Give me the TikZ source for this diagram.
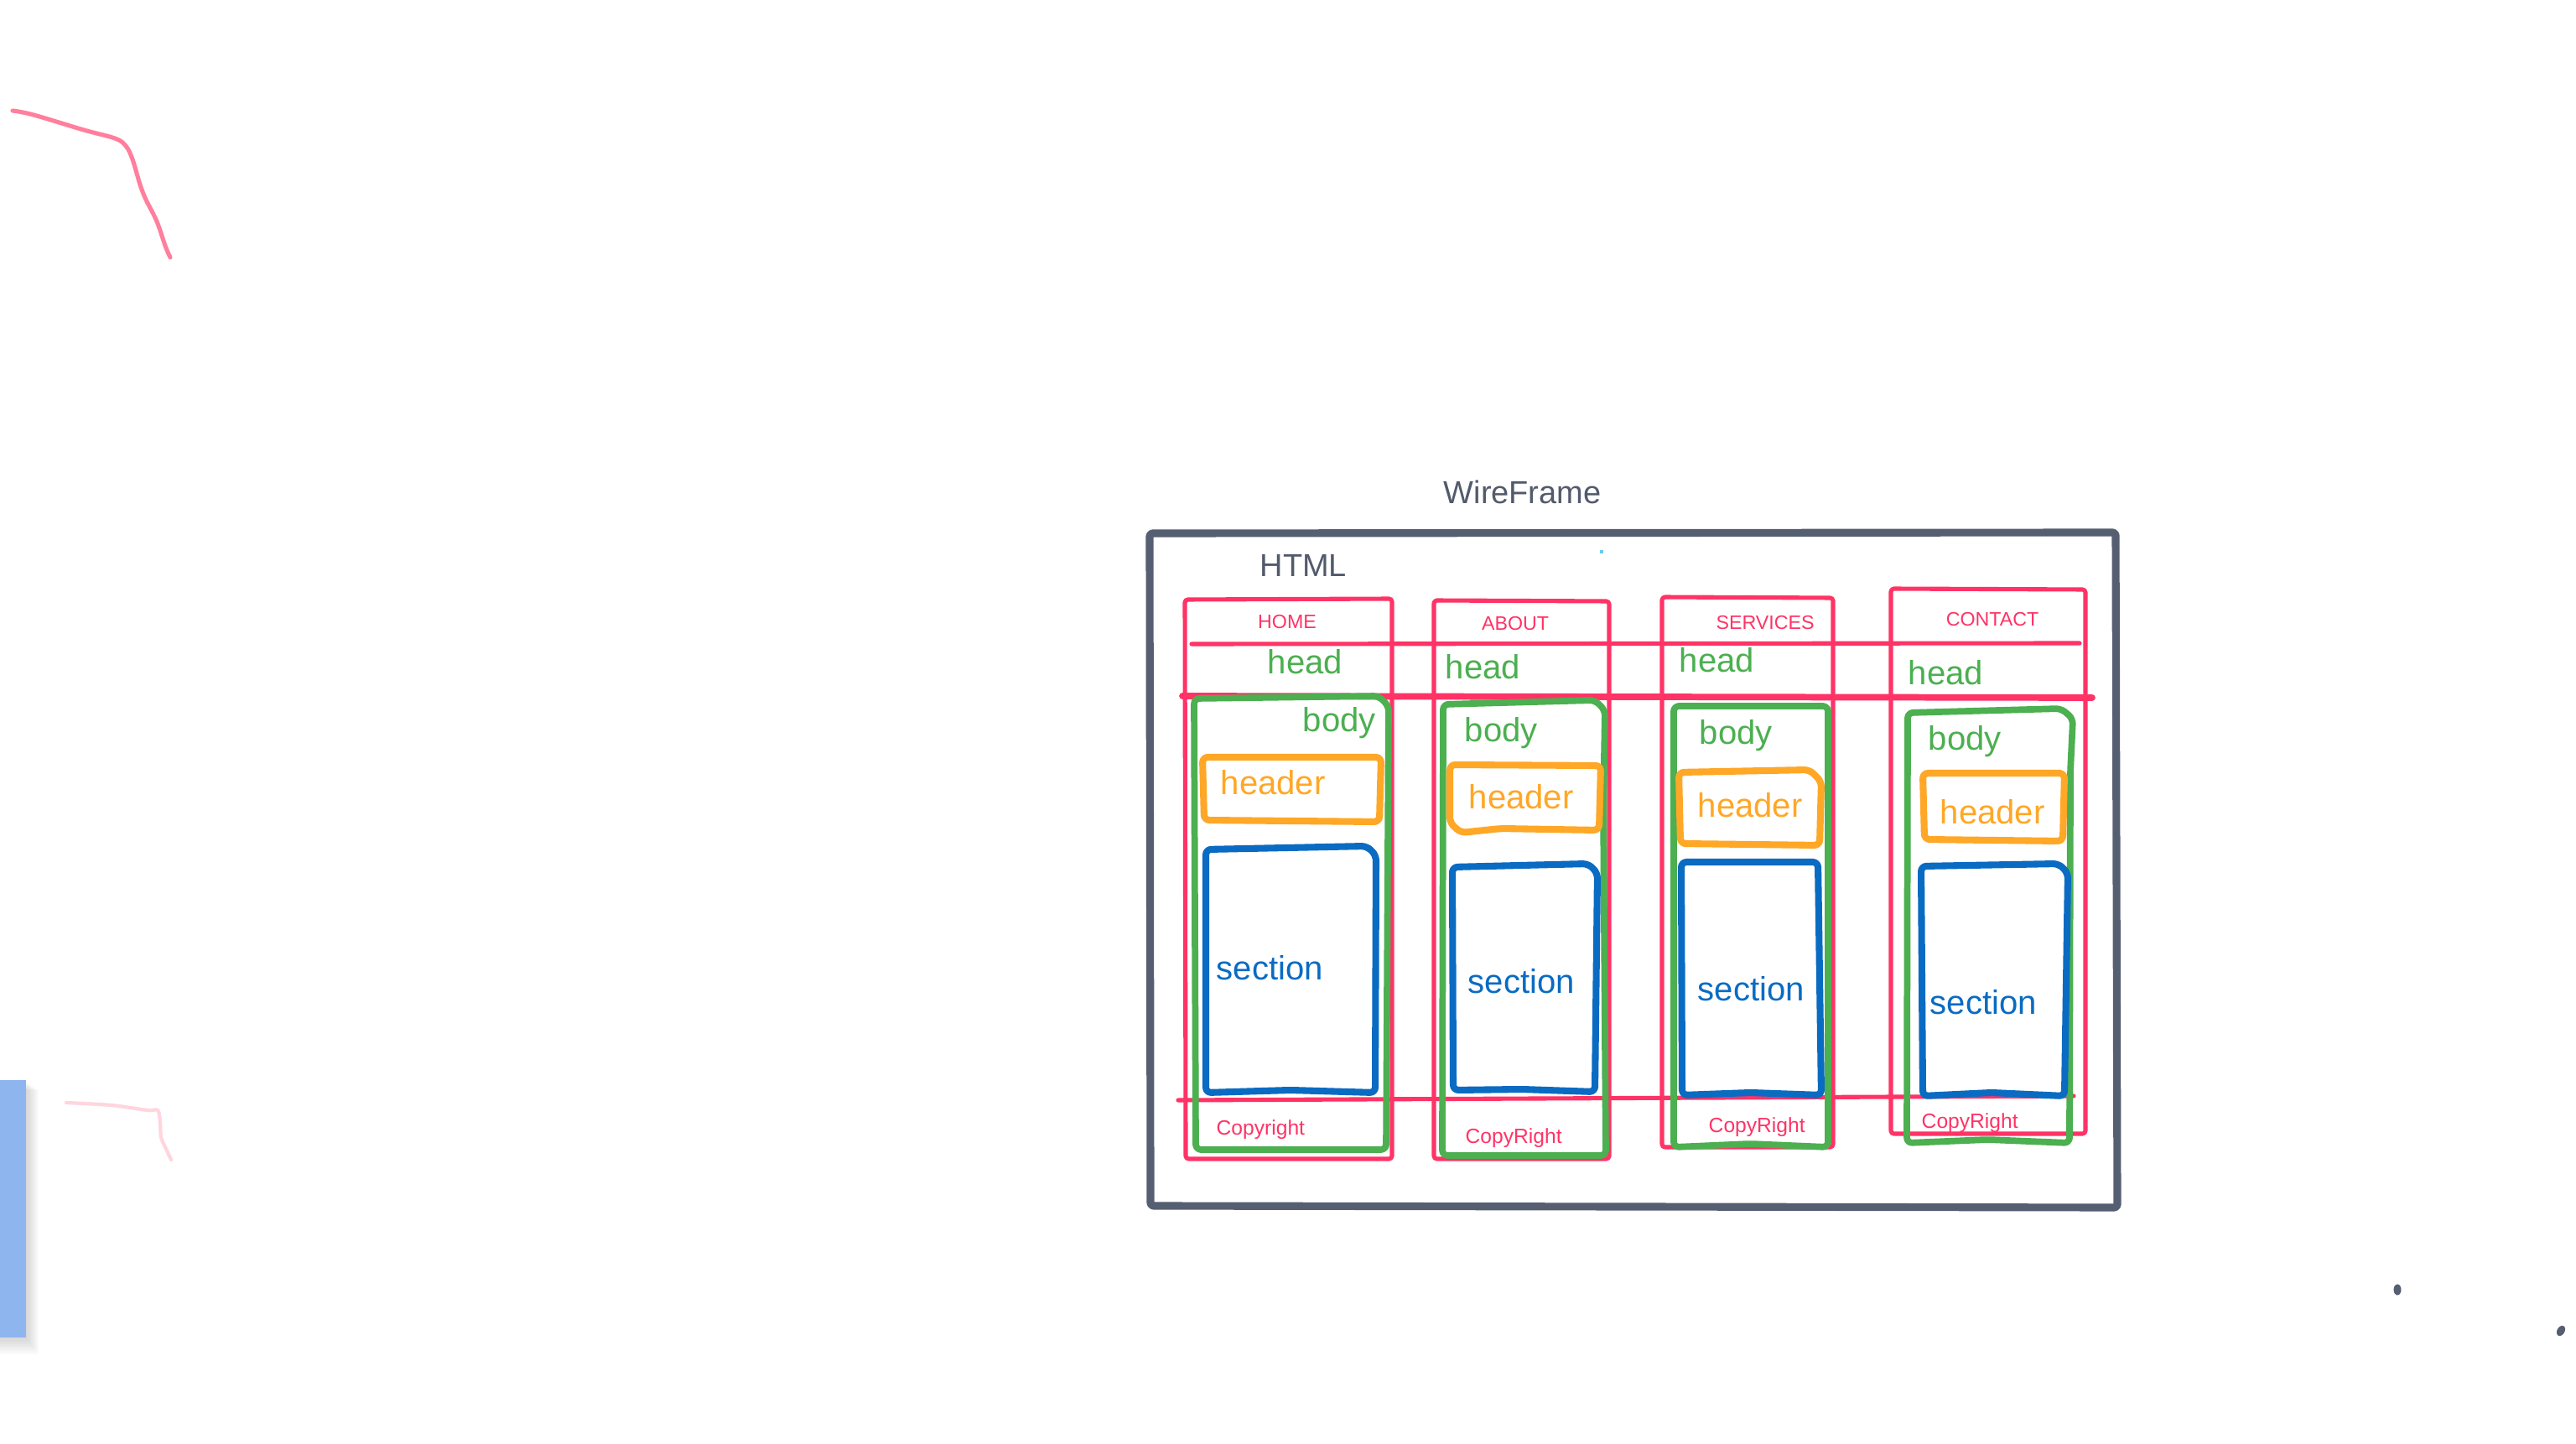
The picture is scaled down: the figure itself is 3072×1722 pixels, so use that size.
\documentclass[tikz,border=0pt]{standalone}
\usepackage{fontspec}
\setmainfont{Liberation Sans}
\usetikzlibrary{shapes.geometric}
\definecolor{pk}{HTML}{FF3366}
\definecolor{gn}{HTML}{4CAF50}
\definecolor{og}{HTML}{FFA726}
\definecolor{bl}{HTML}{0A6BC2}
\definecolor{gy}{HTML}{565E72}
\definecolor{tgy}{HTML}{525A6C}
\definecolor{scrib}{HTML}{FF7F9C}
\definecolor{faint}{HTML}{FFD5DE}
\definecolor{lb}{HTML}{8FB5EF}
\begin{document}
\begin{tikzpicture}[x=0.01cm,y=-0.01cm,line join=round,line cap=round,
  pinkbox/.style={draw=pk,line width=1.45pt,rounded corners=1pt},
  pinkthick/.style={draw=pk,line width=2.2pt},
  greenbox/.style={draw=gn,line width=2.2pt,rounded corners=1.8pt},
  orangebox/.style={draw=og,line width=2.3pt,rounded corners=1.8pt},
  bluebox/.style={draw=bl,line width=2.3pt,rounded corners=1.8pt},
  outerbox/.style={draw=gy,line width=2.6pt,rounded corners=1pt},
  title/.style={font=\fontsize{10.8}{13}\selectfont,text=tgy,inner sep=0,anchor=base west},
  big/.style={font=\fontsize{11.4}{13}\selectfont,inner sep=0,anchor=base west},
  tab/.style={font=\fontsize{6.6}{8}\selectfont,text=pk,inner sep=0,anchor=base},
  foot/.style={font=\fontsize{7}{8}\selectfont,text=pk,inner sep=0,anchor=base west}]
\useasboundingbox (0,0) rectangle (3072,1722);

% left-side marks
\draw[scrib,line width=1.45pt] plot[smooth,tension=0.6] coordinates {(15,132) (40,137) (100,155) (137,165) (150,174) (158,190) (167,220) (174,238) (187,264) (197,293) (203,307)};
\draw[faint,line width=1.2pt] plot[smooth,tension=0.5] coordinates {(79,1315) (133,1318) (176,1324) (188,1324) (191,1338) (192,1356) (198,1370) (204,1383)};
\foreach \i in {1,...,10} {
  \fill[black,opacity=0.014] (0,1290+\i) rectangle (31+1.5*\i,1595+2*\i);
}
\fill[lb] (0,1288) rectangle (31,1595);

% dots
\fill[gy] (2859,1538) ellipse [x radius=4.5, y radius=6.5];
\fill[gy,rotate around={-30:(3054,1587)}] (3054,1587) ellipse [x radius=4.5, y radius=6.5];
\fill[lb!70!cyan] (1908,656) rectangle (1912,660);

% title
\node[title] (wf) at (1721,601) {WireFrame};
\draw[outerbox] (1371,636) -- (2523,635) -- (2525,1440) -- (1372,1438) -- cycle;
\node[title] (html) at (1502,688) {HTML};

% pink column boxes
\draw[pinkbox] (1413,715) -- (1660,714) -- (1660,1382) -- (1414,1382) -- cycle;
\draw[pinkbox] (1710,716) -- (1919,717) -- (1919,1382) -- (1710,1382) -- cycle;
\draw[pinkbox] (1982,712) -- (2186,713) -- (2186,1368) -- (1982,1368) -- cycle;
\draw[pinkbox] (2255,702) -- (2487,703) -- (2487,1352) -- (2255,1352) -- cycle;

% pink separator lines
\draw[pinkbox] (1421,768) -- (2480,767);
\draw[pinkthick] (1410,830) -- (2495,832);
\draw[pinkbox] (1405,1312) -- (2473,1307);

% green body boxes
\draw[greenbox] (1424,833) -- (1644,830) -- (1656,842) -- (1653,1371) -- (1426,1371) -- cycle;
\draw[greenbox] (1721,840) -- (1902,835) -- (1914,847) -- (1912,960) -- (1915,1378) -- (1720,1378) -- cycle;
\draw[greenbox] (1996,842) -- (2180,842) -- (2180,1368) -- (2087,1364) -- (1996,1368) -- cycle;
\draw[greenbox] (2275,850) -- (2458,845) -- (2472,857) -- (2469,920) -- (2468,1363) -- (2370,1359) -- (2274,1363) -- cycle;

% orange header boxes
\draw[orangebox] (1434,903) -- (1647,903) -- (1645,980) -- (1436,978) -- cycle;
\draw[orangebox] (1729,912) -- (1909,913) -- (1907,990) -- (1790,988) -- (1742,993) -- (1729,981) -- cycle;
\draw[orangebox] (2002,921) -- (2158,918) -- (2172,932) -- (2170,1008) -- (2004,1006) -- cycle;
\draw[orangebox] (2293,922) -- (2462,922) -- (2460,1003) -- (2295,1001) -- cycle;

% blue section boxes
\draw[bluebox] (1438,1013) -- (1630,1009) -- (1641,1020) -- (1640,1303) -- (1539,1300) -- (1438,1303) -- cycle;
\draw[bluebox] (1732,1034) -- (1894,1030) -- (1905,1041) -- (1902,1302) -- (1815,1299) -- (1733,1300) -- cycle;
\draw[bluebox] (2005,1028) -- (2168,1028) -- (2172,1306) -- (2088,1303) -- (2006,1306) -- cycle;
\draw[bluebox] (2291,1033) -- (2455,1030) -- (2466,1041) -- (2462,1307) -- (2375,1303) -- (2293,1307) -- cycle;

% tab labels
\node[tab] (t1) at (1535,750) {HOME};
\node[tab] (t2) at (1807,752) {ABOUT};
\node[tab] (t3) at (2105,751) {SERVICES};
\node[tab] (t4) at (2376,747) {CONTACT};

% head labels
\node[big,text=gn] (h1) at (1511,804) {head};
\node[big,text=gn] (h2) at (1723,810) {head};
\node[big,text=gn] (h3) at (2002,802) {head};
\node[big,text=gn] (h4) at (2275,817) {head};

% body labels
\node[big,text=gn] (b1) at (1553,873) {body};
\node[big,text=gn] (b2) at (1746,885) {body};
\node[big,text=gn] (b3) at (2026,887) {body};
\node[big,text=gn] (b4) at (2299,895) {body};

% header labels
\node[big,text=og] (r1) at (1455,947) {header};
\node[big,text=og] (r2) at (1751,965) {header};
\node[big,text=og] (r3) at (2024,975) {header};
\node[big,text=og] (r4) at (2313,982) {header};

% section labels
\node[big,text=bl] (s1) at (1450,1168) {section};
\node[big,text=bl] (s2) at (1750,1184) {section};
\node[big,text=bl] (s3) at (2024,1193) {section};
\node[big,text=bl] (s4) at (2301,1209) {section};

% footer labels
\node[foot] (c1) at (1450,1353) {Copyright};
\node[foot] (c2) at (1747,1363) {CopyRight};
\node[foot] (c3) at (2037,1350) {CopyRight};
\node[foot] (c4) at (2291,1345) {CopyRight};
\end{tikzpicture}
\end{document}
